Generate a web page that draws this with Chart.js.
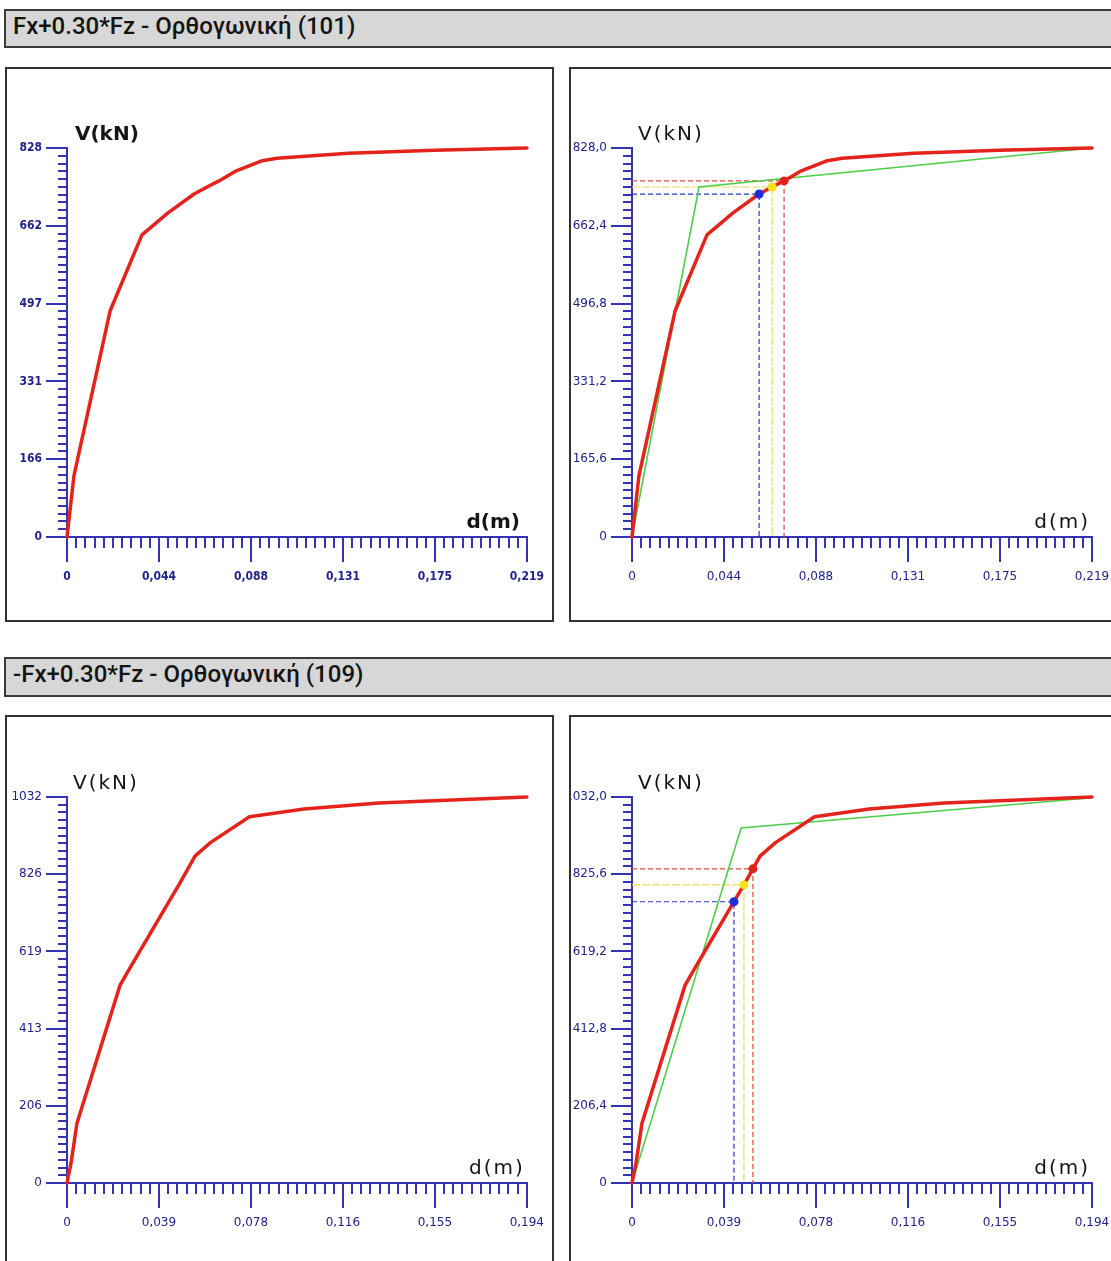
<!DOCTYPE html>
<html>
<head>
<meta charset="utf-8">
<title>Pushover curves</title>
<script src="https://cdn.jsdelivr.net/npm/chart.js@4/dist/chart.umd.min.js"></script>
<style>
  html, body { margin: 0; padding: 0; background: #fff; width: 1111px; height: 1261px; overflow: hidden; }
  .hdr {
    position: absolute; left: 4px; width: 1130px; box-sizing: border-box;
    background: #d7d7d7; border: 2px solid #3a3a3a;
    font-family: Roboto, "Noto Sans", sans-serif; font-size: 24px; font-weight: 500; line-height: 25px;
    color: #141414; padding-left: 7px; padding-top: 3px; white-space: nowrap;
  }
  .panel { position: absolute; box-sizing: border-box; border: 2px solid #333; background: #fff; overflow: hidden; }
  .panel canvas { position: absolute; left: 0; top: 0; }
</style>
</head>
<body>

<div class="hdr" style="top:657px;height:40px;" id="h2">-Fx+0.30*Fz - Ορθογωνική (109)</div>
<div class="hdr" style="top:9px;height:39px;" id="h1">Fx+0.30*Fz - Ορθογωνική (101)</div>

<div class="panel" style="left:5px;top:67px;width:549px;height:555px;"><canvas id="cTL" width="545" height="551"></canvas></div>
<div class="panel" style="left:569px;top:67px;width:560px;height:555px;"><canvas id="cTR" width="556" height="551"></canvas></div>
<div class="panel" style="left:5px;top:715px;width:549px;height:560px;"><canvas id="cBL" width="545" height="556"></canvas></div>
<div class="panel" style="left:569px;top:715px;width:560px;height:560px;"><canvas id="cBR" width="556" height="556"></canvas></div>

<script>
// ---- Load case 101: Fx+0.30*Fz ----
const dispTop  = [0, 0.0033, 0.0205, 0.0357, 0.0481, 0.0605, 0.0667, 0.0724, 0.0800, 0.0930, 0.1000, 0.1340, 0.1750, 0.2190];
const shearTop = [0, 130, 481, 643, 690, 730, 745, 758, 778, 801, 806, 817, 823, 828];
const bilinDispTop  = [0, 0.0319, 0.2190];
const bilinShearTop = [0, 745, 828];
const markDispTop  = [0.0605, 0.0667, 0.0724];
const markShearTop = [730, 745, 758];
const xTicksTop  = [0, 0.0438, 0.0876, 0.1314, 0.1752, 0.2190];
const xLabelsTop = ["0", "0,044", "0,088", "0,131", "0,175", "0,219"];
const yTicksTop  = [0, 165.6, 331.2, 496.8, 662.4, 828.0];
const yLabelsTopInt = ["0", "166", "331", "497", "662", "828"];
const yLabelsTopDec = ["0", "165,6", "331,2", "496,8", "662,4", "828,0"];

// ---- Load case 109: -Fx+0.30*Fz ----
const dispBot  = [0, 0.0017, 0.0042, 0.0224, 0.0253, 0.0430, 0.0472, 0.0510, 0.0540, 0.0605, 0.0770, 0.1000, 0.1316, 0.1600, 0.1940];
const shearBot = [0, 53, 160, 529, 561, 752, 797, 840, 874, 910, 979, 1000, 1016, 1023, 1032];
const bilinDispBot  = [0, 0.0460, 0.1940];
const bilinShearBot = [0, 949, 1030];
const markDispBot  = [0.0430, 0.0472, 0.0510];
const markShearBot = [752, 797, 840];
const xTicksBot  = [0, 0.0388, 0.0776, 0.1164, 0.1552, 0.1940];
const xLabelsBot = ["0", "0,039", "0,078", "0,116", "0,155", "0,194"];
const yTicksBot  = [0, 206.4, 412.8, 619.2, 825.6, 1032.0];
const yLabelsBotInt = ["0", "206", "413", "619", "826", "1032"];
const yLabelsBotDec = ["0", "206,4", "412,8", "619,2", "825,6", "1032,0"];

// ---- styling ----
const AXIS = '#3434b2';
const LABEL = '#22228a';
const RED = '#e3231c';
const GREEN = '#4ccf4c';
const MARK_COLORS = ['#1f2ed6', '#f3e21a', '#e3231c'];
const GUIDE_COLORS = ['#2a34c8', '#eadc5a', '#e04a3c'];

const pts = (xs, ys) => xs.map((x, i) => ({ x: x, y: ys[i] }));

// short minor ticks: ten divisions between neighbouring labelled ticks
const minorTicks = {
  id: 'minorTicks',
  beforeDatasetsDraw(chart) {
    const { ctx, chartArea: a, scales: { x, y } } = chart;
    const xt = x.ticks.map(t => t.value), yt = y.ticks.map(t => t.value);
    ctx.save();
    ctx.strokeStyle = AXIS;
    ctx.lineWidth = 2;
    ctx.beginPath();
    for (let i = 0; i < xt.length - 1; i++) {
      for (let k = 1; k < 10; k++) {
        const px = Math.round(x.getPixelForValue(xt[i] + (xt[i + 1] - xt[i]) * k / 10));
        ctx.moveTo(px, a.bottom); ctx.lineTo(px, a.bottom + 11);
      }
    }
    for (let i = 0; i < yt.length - 1; i++) {
      for (let k = 1; k < 10; k++) {
        const py = Math.round(y.getPixelForValue(yt[i] + (yt[i + 1] - yt[i]) * k / 10));
        ctx.moveTo(a.left - 9, py); ctx.lineTo(a.left, py);
      }
    }
    ctx.stroke();
    ctx.restore();
  }
};

// axis names drawn inside the axes corner
const axisNames = {
  id: 'axisNames',
  afterDraw(chart, args, opts) {
    const { ctx, chartArea: a } = chart;
    ctx.save();
    ctx.fillStyle = '#151515';
    ctx.font = opts.font;
    ctx.letterSpacing = opts.spacing + 'px';
    ctx.textBaseline = 'alphabetic';
    ctx.textAlign = 'left';
    ctx.fillText('V(kN)', a.left + opts.vx, a.top - 8);
    ctx.textAlign = 'right';
    ctx.fillText('d(m)', a.right - opts.dx + opts.spacing, a.bottom - 9);
    ctx.restore();
  }
};

function drawPushover(canvasId, plot, s) {
  const canvas = document.getElementById(canvasId);
  const r = canvas.getBoundingClientRect();
  const datasets = [{
    data: pts(s.disp, s.shear), showLine: true, borderColor: RED, borderWidth: 3.5,
    borderJoinStyle: 'round', borderCapStyle: 'round', pointRadius: 0, order: 1, clip: false
  }];
  if (s.bilinDisp) {
    datasets.push({
      data: pts(s.bilinDisp, s.bilinShear), showLine: true, borderColor: GREEN, borderWidth: 1.6,
      pointRadius: 0, order: 2, clip: false
    });
    s.markDisp.forEach((d, i) => {
      const v = s.markShear[i];
      datasets.push({
        data: [{ x: 0, y: v }, { x: d, y: v }, { x: d, y: 0 }], showLine: true,
        borderColor: GUIDE_COLORS[i], borderWidth: 1.2, borderDash: i === 1 ? [8, 2] : [5, 3],
        pointRadius: 0, order: 3, clip: false
      });
    });
    datasets.push({
      data: pts(s.markDisp, s.markShear), showLine: false, pointRadius: 4.5,
      pointBackgroundColor: MARK_COLORS, pointBorderColor: MARK_COLORS, pointBorderWidth: 0,
      order: 0, clip: false
    });
  }
  const labelFont = s.bold
    ? { family: '"DejaVu Sans Condensed", "DejaVu Sans", sans-serif', size: 12, weight: 'bold' }
    : { family: '"DejaVu Sans", sans-serif', size: 12, weight: 'normal' };
  new Chart(canvas, {
    type: 'scatter',
    data: { datasets: datasets },
    options: {
      responsive: false, animation: false, devicePixelRatio: 1,
      events: [],
      layout: { padding: { left: 0, bottom: 0, top: plot.top - r.top, right: r.right - plot.right } },
      plugins: {
        legend: { display: false }, tooltip: { enabled: false },
        axisNames: s.bold
          ? { font: 'bold 20px "DejaVu Sans", sans-serif', spacing: 0, vx: 8, dx: 7 }
          : { font: '20px "DejaVu Sans", sans-serif', spacing: 2, vx: 6, dx: 4 }
      },
      scales: {
        x: {
          type: 'linear', position: 'bottom', min: s.xTicks[0], max: s.xTicks[s.xTicks.length - 1],
          afterBuildTicks: sc => { sc.ticks = s.xTicks.map(v => ({ value: v })); },
          afterFit: sc => { sc.height = r.bottom - plot.bottom; },
          border: { display: true, color: AXIS, width: 2 },
          grid: { drawOnChartArea: false, drawTicks: true, tickLength: 25, tickWidth: 2, tickColor: AXIS, color: AXIS, lineWidth: 2 },
          ticks: { autoSkip: false, maxRotation: 0, minRotation: 0, padding: 8, color: LABEL, font: labelFont,
                   callback: (v, i) => s.xLabels[i] }
        },
        y: {
          type: 'linear', position: 'left', min: s.yTicks[0], max: s.yTicks[s.yTicks.length - 1],
          afterBuildTicks: sc => { sc.ticks = s.yTicks.map(v => ({ value: v })); },
          afterFit: sc => { sc.width = plot.left - r.left; },
          border: { display: true, color: AXIS, width: 2 },
          grid: { drawOnChartArea: false, drawTicks: true, tickLength: 21, tickWidth: 2, tickColor: AXIS, color: AXIS, lineWidth: 2 },
          ticks: { autoSkip: false, padding: 4, color: LABEL, font: labelFont,
                   callback: (v, i) => s.yLabels[i] }
        }
      }
    },
    plugins: [minorTicks, axisNames]
  });
}

drawPushover('cTL', { left: 67, right: 527, top: 148, bottom: 537 }, {
  disp: dispTop, shear: shearTop, xTicks: xTicksTop, xLabels: xLabelsTop,
  yTicks: yTicksTop, yLabels: yLabelsTopInt, bold: true
});
drawPushover('cTR', { left: 632, right: 1092, top: 148, bottom: 537 }, {
  disp: dispTop, shear: shearTop, xTicks: xTicksTop, xLabels: xLabelsTop,
  yTicks: yTicksTop, yLabels: yLabelsTopDec,
  bilinDisp: bilinDispTop, bilinShear: bilinShearTop, markDisp: markDispTop, markShear: markShearTop
});
drawPushover('cBL', { left: 67, right: 527, top: 797, bottom: 1183 }, {
  disp: dispBot, shear: shearBot, xTicks: xTicksBot, xLabels: xLabelsBot,
  yTicks: yTicksBot, yLabels: yLabelsBotInt
});
drawPushover('cBR', { left: 632, right: 1092, top: 797, bottom: 1183 }, {
  disp: dispBot, shear: shearBot, xTicks: xTicksBot, xLabels: xLabelsBot,
  yTicks: yTicksBot, yLabels: yLabelsBotDec,
  bilinDisp: bilinDispBot, bilinShear: bilinShearBot, markDisp: markDispBot, markShear: markShearBot
});
</script>
</body>
</html>
